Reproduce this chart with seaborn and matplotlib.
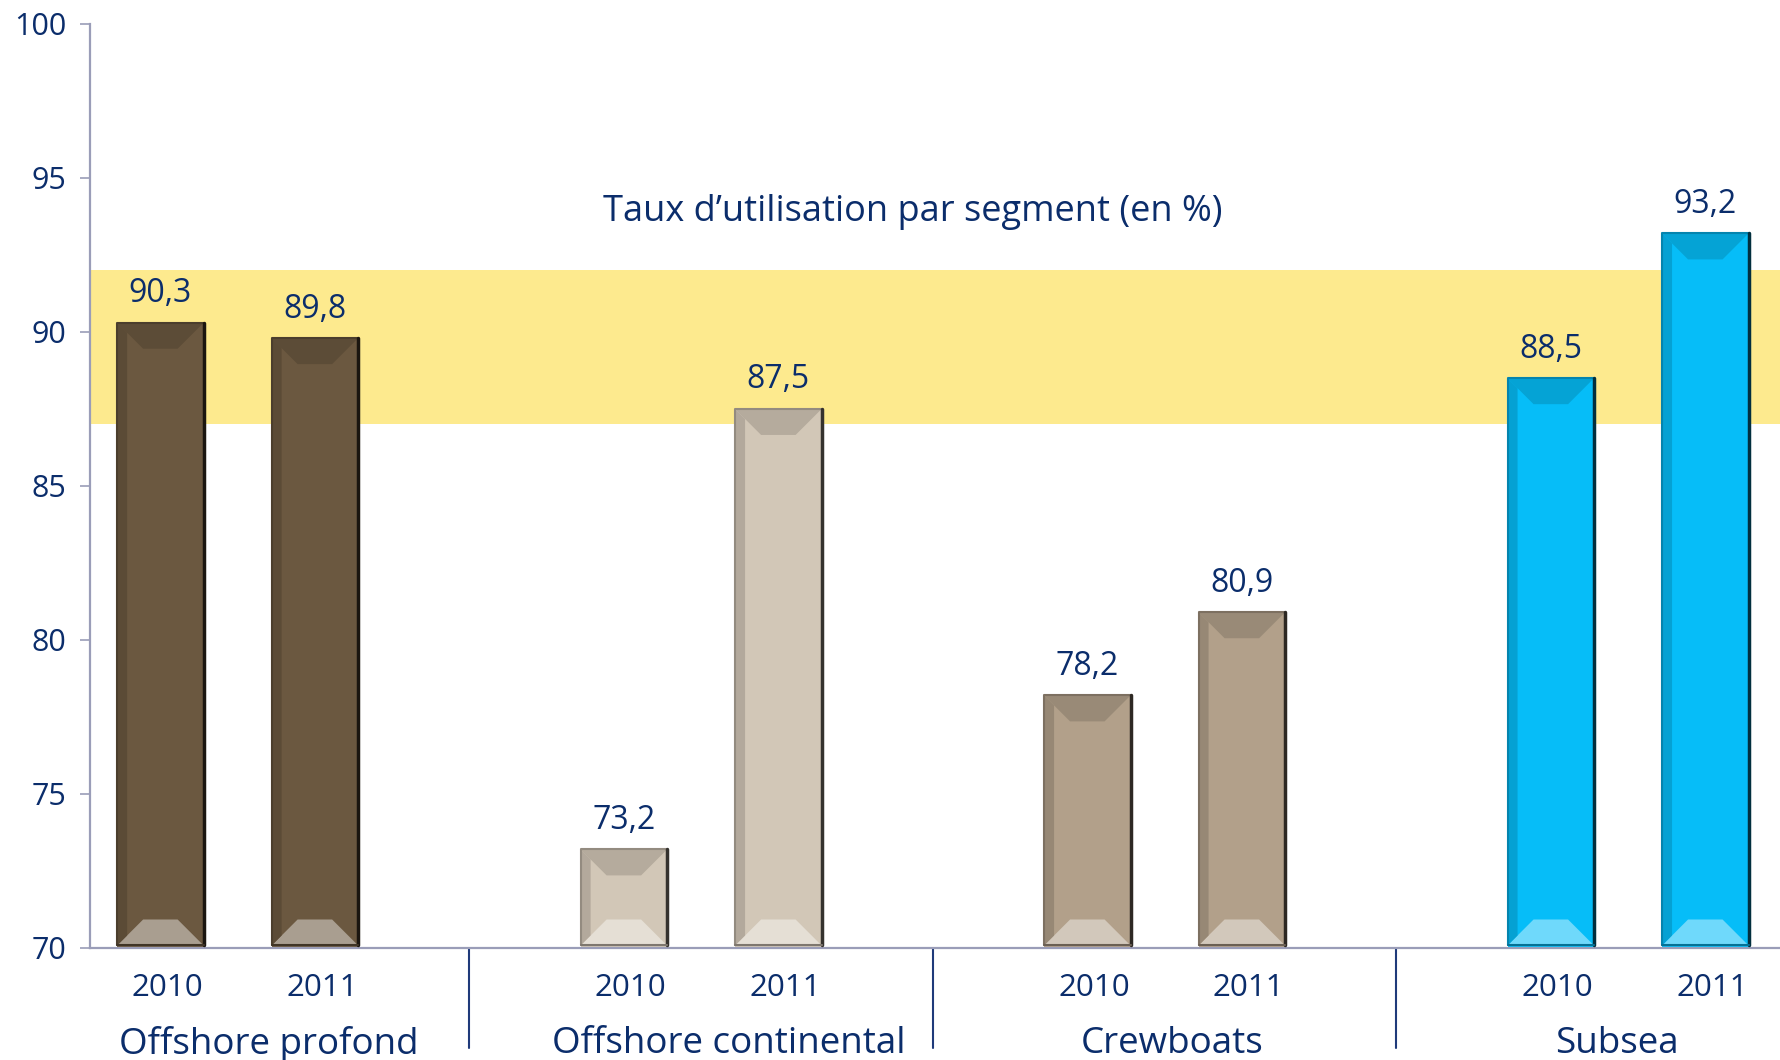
import numpy as np
import pandas as pd
import seaborn as sns
import matplotlib.pyplot as plt
from matplotlib.patches import Polygon
from matplotlib.colors import to_rgb
import matplotlib.transforms as mtransforms

# data
segments = ['Offshore profond', 'Offshore continental', 'Crewboats', 'Subsea']
years = ['2010', '2011']
rate_2010 = [90.3, 73.2, 78.2, 88.5]
rate_2011 = [89.8, 87.5, 80.9, 93.2]
title = 'Taux d\u2019utilisation par segment (en %)'
band = (87, 92)

colors = ['#6b5840', '#d2c7b7', '#b2a08a', '#06bdf8']
navy = '#0b2d6b'

rows = []
for g, seg in enumerate(segments):
    for j, (yr, val) in enumerate(zip(years, [rate_2010[g], rate_2011[g]])):
        rows.append({'pos': 3 * g + j, 'segment': seg, 'year': yr, 'rate': val})
df = pd.DataFrame(rows)

sns.set_style('white')
plt.rcParams['font.family'] = ['Open Sans', 'DejaVu Sans']

fig = plt.figure(figsize=(17.81, 10.60), dpi=100)
ax = fig.add_axes([0.0505, 0.1057, 0.9495, 0.8717])

ax.axhspan(band[0], band[1], color='#fdea8e', zorder=0, lw=0)

sns.barplot(data=df, x='pos', y='rate', hue='segment', palette=colors,
            native_scale=True, dodge=False, width=0.56, legend=False,
            linewidth=0, saturation=1, ax=ax, zorder=2)

ax.set_xlim(-0.456, 10.49)
ax.set_ylim(70, 100)
ax.set_yticks(range(70, 101, 5))
ax.set_xticks(df['pos'])
ax.set_xticklabels(df['year'])
ax.set_xlabel('')
ax.set_ylabel('')
ax.tick_params(axis='y', length=7, width=1.2, color='#9a9db8', labelsize=22,
               labelcolor=navy, pad=10, direction='out', left=True)
ax.tick_params(axis='x', length=0, labelsize=22.5, labelcolor=navy, pad=18)
for lab in ax.get_xticklabels():
    lab.set_transform(lab.get_transform() + mtransforms.ScaledTranslation(5 / 72, 0, fig.dpi_scale_trans))
for s in ['top', 'right']:
    ax.spines[s].set_visible(False)
for s in ['left', 'bottom']:
    ax.spines[s].set_color('#9a9db8')
    ax.spines[s].set_linewidth(1.6)

# bevel look on each bar
px = ax.transData.transform([(0, 70), (1, 75)])
ux = 1 / (px[1, 0] - px[0, 0])
uy = 5 / (px[1, 1] - px[0, 1])
bars = [p for c in ax.containers for p in c]
for p in bars:
    x0 = p.get_x()
    x1 = x0 + p.get_width()
    y0 = 70.08
    y1 = p.get_y() + p.get_height()
    base = np.array(to_rgb(p.get_facecolor()))
    dark = base * 0.86
    light = base + (1 - base) * 0.42
    side = base * 0.85
    bx, by = 26 * ux, 26 * uy
    ax.add_patch(Polygon([(x0, y1), (x1, y1), (x1 - bx, y1 - by), (x0 + bx, y1 - by)],
                         color=dark, lw=0, zorder=3))
    ax.add_patch(Polygon([(x0, y0), (x1, y0), (x1 - bx, y0 + by), (x0 + bx, y0 + by)],
                         color=light, lw=0, zorder=3))
    ax.add_patch(Polygon([(x0, y0), (x0 + 10 * ux, y0 + 10 * uy), (x0 + 10 * ux, y1 - 10 * uy), (x0, y1)],
                         color=side, lw=0, zorder=3))
    ax.plot([x0, x0, x1], [y0, y1, y1], color=base * 0.7, lw=1.5, zorder=4)
    ax.plot([x1, x1], [y0, y1], color=base * 0.25, lw=2.5, zorder=4)
    ax.plot([x0, x1], [y0, y0], color=base * 0.6, lw=1.5, zorder=4)

for c in ax.containers:
    ax.bar_label(c, labels=[f'{v:.1f}'.replace('.', ',') for v in c.datavalues],
                 padding=9, fontsize=23, color=navy)

# category labels and separators under the axis
trans = mtransforms.blended_transform_factory(ax.transData, ax.transAxes)
label_x = [0.7, 3.68, 6.55, 9.43]
for seg, lx in zip(segments, label_x):
    ax.text(lx, -0.104, seg, transform=trans, ha='center', va='center',
            fontsize=26.5, color=navy)
for sx in [2, 5, 8]:
    ax.plot([sx, sx], [0, -0.108], transform=trans, color='#1f3a7a', lw=1.5,
            clip_on=False)

ax.text(0.4867, 0.797, title, transform=ax.transAxes, ha='center', va='center',
        fontsize=26, color=navy)

fig.savefig('out.png', dpi=100)
